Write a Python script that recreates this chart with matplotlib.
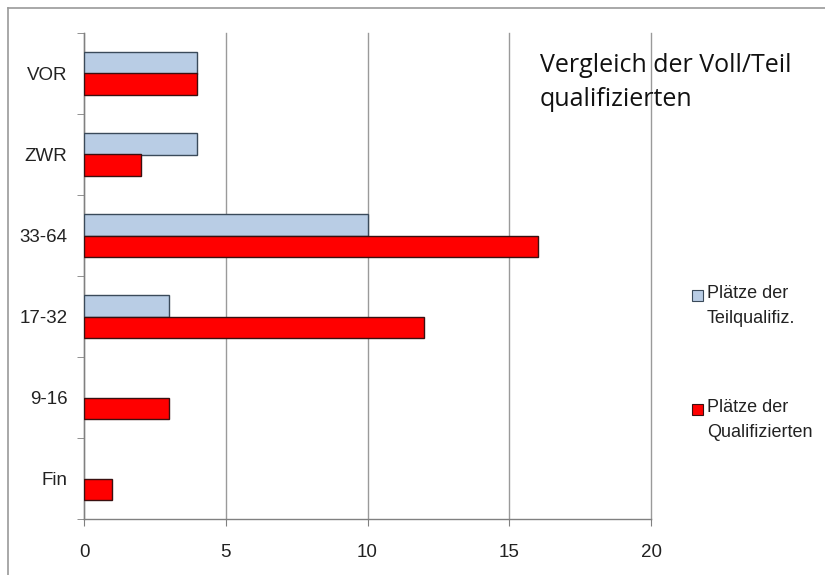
import matplotlib
matplotlib.use("Agg")
import matplotlib.pyplot as plt
from matplotlib.patches import Rectangle
from matplotlib.lines import Line2D
import numpy as np

categories = ["VOR", "ZWR", "33-64", "17-32", "9-16", "Fin"]
teil_values = [4, 4, 10, 3, 0, 0]
voll_values = [4, 2, 16, 12, 3, 1]
series_labels = ["Plätze der\nTeilqualifiz.", "Plätze der\nQualifizierten"]
x_ticks = [0, 5, 10, 15, 20]
title_text = "Vergleich der Voll/Teil\nqualifizierten"

plt.rcParams['font.family'] = ['Liberation Sans', 'DejaVu Sans']

W, H = 825, 575
fig = plt.figure(figsize=(W / 100, H / 100), dpi=100)
ax = fig.add_axes([84 / W, 1 - 519 / H, (651 - 84) / W, (519 - 33) / H])

n = len(categories)
ypos = np.arange(n)[::-1]  # VOR at top
bh = 0.27
blue = "#B9CDE5"
red = "#FF0000"
teil_lw = [1.0 if v > 0 else 0.0 for v in teil_values]
voll_lw = [1.0 if v > 0 else 0.0 for v in voll_values]
ax.barh(ypos + bh / 2, teil_values, height=bh, color=blue, edgecolor="#3a4a5a", linewidth=teil_lw, zorder=3)
ax.barh(ypos - bh / 2, voll_values, height=bh, color=red, edgecolor="#3a1010", linewidth=voll_lw, zorder=3)

ax.set_xlim(0, 20)
ax.set_ylim(-0.5, n - 0.5)
ax.set_xticks(x_ticks)
ax.set_xticklabels([str(t) for t in x_ticks], fontsize=13.5, color="#222222")
ax.set_yticks(ypos)
ax.set_yticklabels(categories, fontsize=13.5, color="#222222")
ax.set_yticks(np.arange(-0.5, n, 1.0), minor=True)
ax.tick_params(axis="y", which="major", length=0, pad=12)
ax.tick_params(axis="y", which="minor", length=5, direction="out", color="#808080")
ax.tick_params(axis="x", which="major", length=5, direction="out", color="#808080", pad=13)

ax.grid(axis="x", color="#9a9a9a", linewidth=1.0, zorder=0)
for gl in ax.get_xgridlines():
    gl.set_clip_on(False)
for s in ["top", "right"]:
    ax.spines[s].set_visible(False)
for s in ["left", "bottom"]:
    ax.spines[s].set_color("#808080")
    ax.spines[s].set_linewidth(1.0)
ax.set_axisbelow(True)

# outer border lines (top and left)
fig.add_artist(Line2D([8 / W, 1], [1 - 8 / H, 1 - 8 / H], color="#9a9a9a", linewidth=1.2))
fig.add_artist(Line2D([8 / W, 8 / W], [1 - 8 / H, 0], color="#9a9a9a", linewidth=1.2))

# title text
fig.text(540 / W, 1 - 53 / H, title_text, fontsize=18, family=["Open Sans", "DejaVu Sans"],
         va="top", ha="left", linespacing=1.5, color="#111111")

# manual legend
leg_colors = [blue, red]
leg_edges = ["#3a4a5a", "#3a1010"]
leg_y = [285, 399]
for lab, c, ec, yy in zip(series_labels, leg_colors, leg_edges, leg_y):
    fig.add_artist(Rectangle((692 / W, 1 - (yy + 16) / H), 11 / W, 11 / H,
                             facecolor=c, edgecolor=ec, linewidth=0.8, transform=fig.transFigure))
    fig.text(707 / W, 1 - yy / H, lab, fontsize=13, va="top", ha="left", linespacing=1.6, color="#222222")

fig.savefig("out.png", dpi=100)
